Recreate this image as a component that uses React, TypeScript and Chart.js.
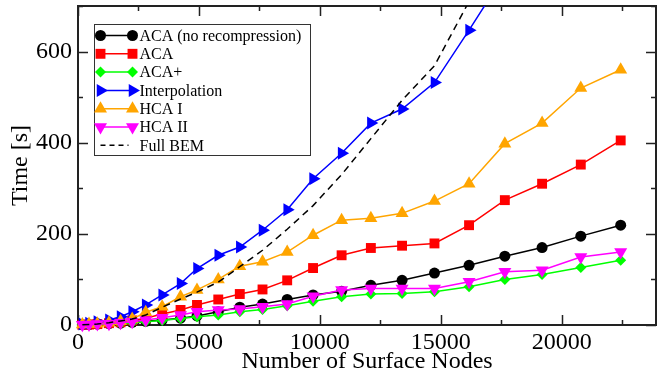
import React, { useEffect, useRef } from 'react';
import { Chart, registerables } from 'chart.js';

Chart.register(...registerables);

// ---- data ----
const nodes = [180, 455, 800, 1280, 1760, 2240, 2800, 3480, 4240, 4920, 5800, 6690, 7630, 8650, 9720, 10900, 12110, 13400, 14740, 16170, 17650, 19190, 20790, 22440];
const acaNoRecompression = [0.5, 1, 2, 3, 4, 6, 8, 11, 15, 20, 29, 39, 46, 56, 66, 74, 87, 98, 114, 131, 151, 170, 195, 219];
const aca = [0.5, 1, 2, 4, 6, 10, 15, 24, 33, 44, 56, 68, 78, 98, 125, 153, 169, 174, 179, 219, 274, 310, 352, 405];
const acaPlus = [0.3, 0.5, 1, 2, 3, 5, 7, 10, 14, 18, 22, 29, 34, 42, 52, 62, 68, 69, 73, 84, 100, 111, 126, 142];
const interpolation = [2, 4, 7, 11, 18, 29, 44, 66, 91, 124, 153, 171, 208, 253, 321, 377, 443, 474, 532, 647, 770, 880, 1000, 1130];
const hcaI = [1, 2, 3, 5, 8, 13, 28, 40, 62, 77, 100, 129, 139, 160, 197, 230, 234, 245, 272, 310, 398, 443, 520, 560];
const hcaII = [0.5, 1, 2, 3, 5, 7, 11, 16, 22, 29, 33, 35, 40, 46, 63, 77, 80, 80, 80, 95, 117, 120, 149, 160];
const fullBEM = [0.3, 1, 2, 5, 9, 13, 22, 39, 57, 72, 94, 128, 164, 210, 262, 330, 409, 493, 569, 710, 900, 1100, 1330, 1580];

const seriesLabels = ['ACA (no recompression)', 'ACA', 'ACA+', 'Interpolation', 'HCA I', 'HCA II', 'Full BEM'];
const xTitle = 'Number of Surface Nodes';
const yTitle = 'Time [s]';
const xTickValues = [0, 5000, 10000, 15000, 20000];
const yTickValues = [0, 200, 400, 600];
const xMin = 0, xMax = 23900, xMajor = 5000, xMinor = 2500;
const yMin = 0, yMax = 700, yMajor = 200, yMinor = 100;

const FONT = "'Liberation Serif', 'Times New Roman', serif";

function drawMarker(ctx: CanvasRenderingContext2D, style: string, rot: number, x: number, y: number, r: number, color: string) {
  ctx.save();
  ctx.fillStyle = color;
  ctx.beginPath();
  if (style === 'circle') {
    ctx.arc(x, y, r, 0, Math.PI * 2);
  } else if (style === 'rect') {
    const s = r * Math.SQRT1_2;
    ctx.rect(x - s, y - s, 2 * s, 2 * s);
  } else if (style === 'rectRot') {
    ctx.moveTo(x, y - r); ctx.lineTo(x + r, y); ctx.lineTo(x, y + r); ctx.lineTo(x - r, y);
    ctx.closePath();
  } else if (style === 'triangle') {
    let a = (rot * Math.PI) / 180;
    ctx.moveTo(x + Math.sin(a) * r, y - Math.cos(a) * r);
    a += (2 * Math.PI) / 3;
    ctx.lineTo(x + Math.sin(a) * r, y - Math.cos(a) * r);
    a += (2 * Math.PI) / 3;
    ctx.lineTo(x + Math.sin(a) * r, y - Math.cos(a) * r);
    ctx.closePath();
  }
  ctx.fill();
  ctx.restore();
}

const framePlugin = {
  id: 'frameTicks',
  beforeDatasetsDraw(chart: any) {
    const { ctx, chartArea: a, scales } = chart;
    const x = scales.x, y = scales.y;
    ctx.save();
    ctx.strokeStyle = '#222';
    ctx.lineWidth = 1.5;
    ctx.beginPath();
    for (let v = xMin; v <= xMax; v += xMinor) {
      const px = Math.round(x.getPixelForValue(v)) + 0.5;
      const len = v % xMajor === 0 ? 10 : 5;
      ctx.moveTo(px, a.bottom); ctx.lineTo(px, a.bottom - len);
      ctx.moveTo(px, a.top); ctx.lineTo(px, a.top + len);
    }
    for (let v = yMin; v <= yMax; v += yMinor) {
      const py = Math.round(y.getPixelForValue(v)) + 0.5;
      const len = v % yMajor === 0 ? 10 : 5;
      ctx.moveTo(a.left, py); ctx.lineTo(a.left + len, py);
      ctx.moveTo(a.right, py); ctx.lineTo(a.right - len, py);
    }
    ctx.stroke();
    ctx.lineWidth = 2;
    ctx.strokeRect(a.left, a.top, a.right - a.left, a.bottom - a.top);
    ctx.restore();
  },
};

const legendPlugin = {
  id: 'boxLegend',
  afterDraw(chart: any) {
    const ctx: CanvasRenderingContext2D = chart.ctx;
    const a = chart.chartArea;
    const bx = a.left + 16.5, by = a.top + 18.5, bw = 216, bh = 131;
    ctx.save();
    ctx.fillStyle = '#fff';
    ctx.fillRect(bx, by, bw, bh);
    ctx.strokeStyle = '#333';
    ctx.lineWidth = 1;
    ctx.strokeRect(bx, by, bw, bh);
    ctx.font = `16px ${FONT}`;
    ctx.textBaseline = 'middle';
    ctx.textAlign = 'left';
    chart.data.datasets.forEach((ds: any, i: number) => {
      const cy = by + 11 + i * 18.3;
      const x0 = bx + 6, x1 = bx + 38;
      ctx.save();
      ctx.strokeStyle = ds.borderColor;
      ctx.lineWidth = ds.borderWidth;
      if (ds.borderDash) ctx.setLineDash([5, 4]);
      ctx.beginPath();
      ctx.moveTo(x0, cy); ctx.lineTo(ds.borderDash ? x1 - 4 : x1, cy);
      ctx.stroke();
      ctx.restore();
      if (ds.pointRadius > 0) {
        drawMarker(ctx, ds.pointStyle, ds.pointRotation || 0, x0, cy, ds.pointRadius, ds.borderColor);
        drawMarker(ctx, ds.pointStyle, ds.pointRotation || 0, x1, cy, ds.pointRadius, ds.borderColor);
      }
      ctx.fillStyle = '#000';
      ctx.fillText(ds.label, bx + 45, cy + 1);
    });
    ctx.restore();
  },
};

function series(label: string, data: number[], color: string, style: string, radius: number, rotation: number, order: number, dash?: number[]) {
  return {
    label,
    data: nodes.map((n, i) => ({ x: n, y: data[i] })),
    borderColor: color,
    backgroundColor: color,
    pointBackgroundColor: color,
    pointBorderColor: color,
    pointBorderWidth: 0,
    borderWidth: 1.5,
    pointStyle: style,
    pointRotation: rotation,
    pointRadius: radius,
    pointHoverRadius: radius,
    borderDash: dash,
    tension: 0,
    order,
    clip: { left: 10, top: 0, right: 0, bottom: 10 },
  };
}

export default function App() {
  const ref = useRef<HTMLCanvasElement>(null);
  useEffect(() => {
    document.body.style.margin = '0';
    const canvas = ref.current;
    if (!canvas) return;
    const chart = new Chart(canvas, {
      type: 'line',
      data: {
        datasets: [
          series(seriesLabels[0], acaNoRecompression, '#000000', 'circle', 5.5, 0, 7),
          series(seriesLabels[1], aca, '#ff0000', 'rect', 7, 0, 6),
          series(seriesLabels[2], acaPlus, '#00ff00', 'rectRot', 5.5, 0, 5),
          series(seriesLabels[3], interpolation, '#0000ff', 'triangle', 7.5, 90, 4),
          series(seriesLabels[4], hcaI, '#ffa500', 'triangle', 7.5, 0, 3),
          series(seriesLabels[5], hcaII, '#ff00ff', 'triangle', 7.5, 180, 2),
          series(seriesLabels[6], fullBEM, '#000000', 'circle', 0, 0, 1, [7, 5]),
        ] as any,
      },
      options: {
        responsive: false,
        animation: false,
        devicePixelRatio: 1,
        layout: { autoPadding: false, padding: { top: 6, right: 1, left: 0, bottom: 0 } },
        plugins: { legend: { display: false }, tooltip: { enabled: false } },
        scales: {
          x: {
            type: 'linear',
            min: xMin,
            max: xMax,
            grid: { display: false, drawTicks: false },
            border: { display: false },
            afterBuildTicks: (s: any) => { s.ticks = xTickValues.map((v) => ({ value: v })); },
            ticks: {
              autoSkip: false,
              maxRotation: 0,
              minRotation: 0,
              padding: 3,
              color: '#000',
              font: { family: FONT, size: 24 },
              callback: (v: any) => String(v),
            },
            title: { display: true, text: xTitle, color: '#000', font: { family: FONT, size: 24 }, padding: { top: 0, bottom: 0 } },
            afterFit: (s: any) => { s.height = 51; s.paddingLeft = 0; s.paddingRight = 0; },
          },
          y: {
            type: 'linear',
            min: yMin,
            max: yMax,
            grid: { display: false, drawTicks: false },
            border: { display: false },
            afterBuildTicks: (s: any) => { s.ticks = yTickValues.map((v) => ({ value: v })); },
            ticks: {
              autoSkip: false,
              padding: 6,
              color: '#000',
              font: { family: FONT, size: 24 },
              callback: (v: any) => String(v),
            },
            title: { display: true, text: yTitle, color: '#000', font: { family: FONT, size: 24 }, padding: { top: 6, bottom: 0 } },
            afterFit: (s: any) => { s.width = 78; s.paddingTop = 0; s.paddingBottom = 0; },
          },
        },
      } as any,
      plugins: [framePlugin, legendPlugin],
    });
    return () => chart.destroy();
  }, []);
  return (
    <div style={{ width: 657, height: 376 }}>
      <canvas ref={ref} width={657} height={376} style={{ display: 'block' }} />
    </div>
  );
}
